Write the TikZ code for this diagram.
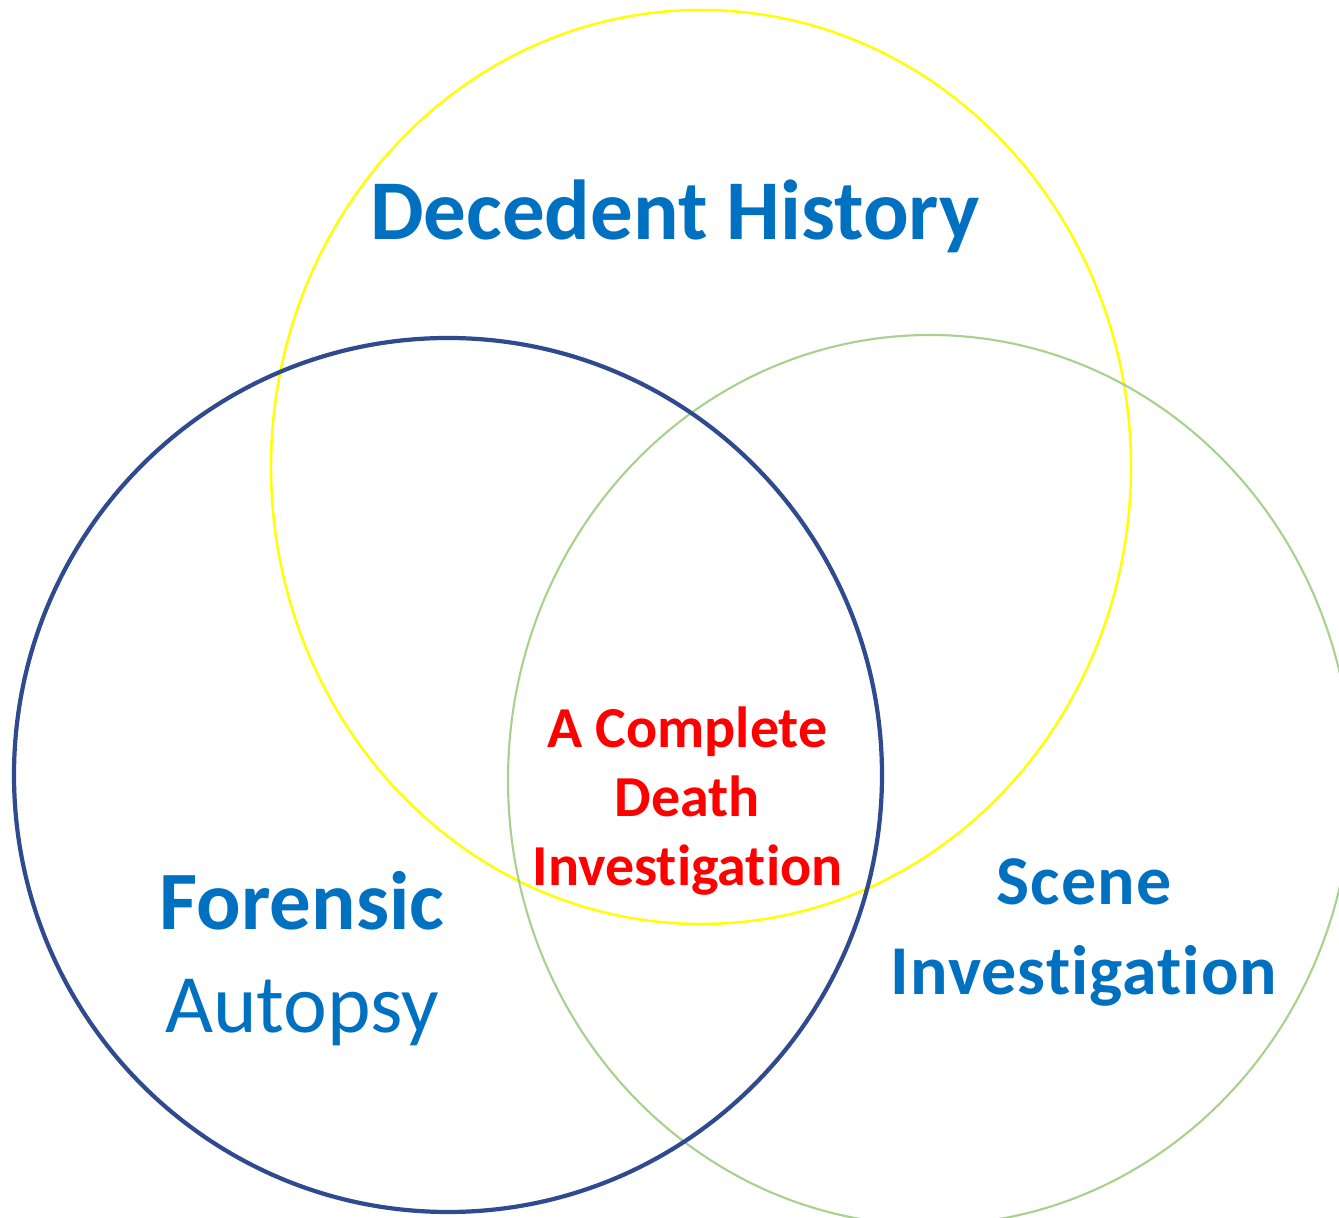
\documentclass[tikz,border=0pt]{standalone}
\usepackage{fontspec}
\setmainfont{Carlito}[Ligatures=NoCommon]
\definecolor{txtblue}{HTML}{0070C0}
\definecolor{ringnavy}{HTML}{2F4A8F}
\definecolor{ringgreen}{HTML}{A9D18E}
\definecolor{ringyellow}{HTML}{FFFF00}
\newcommand{\fsz}[1]{\fontsize{#1}{#1}\selectfont}

\begin{document}
\begin{tikzpicture}[
	ring/.style = {line width = #1},
	lbl/.style = {anchor = base, inner sep = 0pt, text = txtblue, font = \bfseries\fsz{23.6pt}},
	core/.style = {anchor = base, inner sep = 0pt, text = red, font = \bfseries\fsz{16.5pt}},
	scn/.style = {anchor = base, inner sep = 0pt, text = txtblue,
		font = \bfseries\fsz{19.9pt}\addfontfeature{LetterSpace=1.5}}]
\useasboundingbox (0,0) rectangle (13.39,12.18);
\clip (0,0) rectangle (13.39,12.18);
% the three circles
\draw[ring = 0.7pt, ringyellow] (7.01,7.51) ellipse (4.30 and 4.57);
\draw[ring = 0.6pt, ringgreen]  (9.30,4.38) ellipse (4.22 and 4.45);
\draw[ring = 1.2pt, ringnavy]   (4.48,4.43) ellipse (4.34 and 4.37);
% labels
\node[lbl, font = \bfseries\fsz{24.2pt}] (history) at (6.75,9.78) {Decedent History};
\node[lbl] (forensic) at (3.02,2.88) {Forensic};
\node[lbl, font = \fsz{23.6pt}] (autopsy) at (3.02,1.85) {Autopsy};
\node[scn] (scene) at (10.84,3.13) {Scene};
\node[scn] (sceneinv) at (10.84,2.23) {Investigation};
\node[core] (complete) at (6.875,4.70) {A Complete};
\node[core] (death) at (6.875,4.01) {Death};
\node[core] (deathinv) at (6.875,3.32) {Investigation};
\end{tikzpicture}
\end{document}
